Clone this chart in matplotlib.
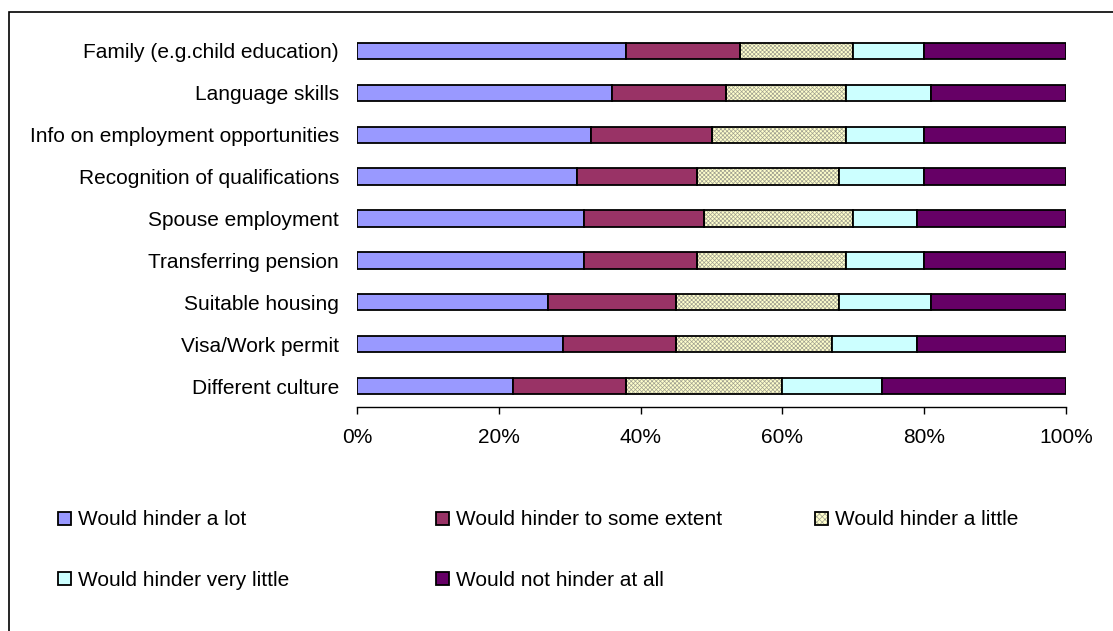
import matplotlib.pyplot as plt
import numpy as np
from matplotlib.patches import Rectangle

plt.rcParams['font.family'] = ['Liberation Sans', 'DejaVu Sans']
plt.rcParams['hatch.linewidth'] = 0.5

categories = ['Family (e.g.child education)', 'Language skills',
              'Info on employment opportunities', 'Recognition of qualifications',
              'Spouse employment', 'Transferring pension', 'Suitable housing',
              'Visa/Work permit', 'Different culture']
series = ['Would hinder a lot', 'Would hinder to some extent',
          'Would hinder a little', 'Would hinder very little',
          'Would not hinder at all']
# percent shares per category (rows follow categories)
a_lot = [38, 36, 33, 31, 32, 32, 27, 29, 22]
some_extent = [16, 16, 17, 17, 17, 16, 18, 16, 16]
a_little = [16, 17, 19, 20, 21, 21, 23, 22, 22]
very_little = [10, 12, 11, 12, 9, 11, 13, 12, 14]
not_at_all = [20, 19, 20, 20, 21, 20, 19, 21, 26]
xticks = [0, 20, 40, 60, 80, 100]
xticklabels = ['0%', '20%', '40%', '60%', '80%', '100%']

colors = ['#9999FF', '#993366', '#FFFFCC', '#CCFFFF', '#660066']
values = np.array([a_lot, some_extent, a_little, very_little, not_at_all], dtype=float)

W, H = 1113, 631
fig = plt.figure(figsize=(W / 100, H / 100), dpi=100)
ax = fig.add_axes([357 / W, 1 - 407 / H, (1066 - 357) / W, (407 - 30) / H])

y = np.arange(len(categories))[::-1]
left = np.zeros(len(categories))
bh = 0.39
handles = []
for i, (name, col) in enumerate(zip(series, colors)):
    if i == 2:
        ax.barh(y, values[i], left=left, height=bh, color=col, edgecolor='#a0a090',
                linewidth=0, hatch='xxxxxxxx', zorder=2)
        ax.barh(y, values[i], left=left, height=bh, fill=False, edgecolor='black',
                linewidth=1.3, zorder=3)
        h1 = Rectangle((0, 0), 1, 1, facecolor=col, edgecolor='#a0a090', linewidth=0, hatch='xxxxxx')
        h2 = Rectangle((0, 0), 1, 1, fill=False, edgecolor='black', linewidth=1.3)
        handles.append((h1, h2))
    else:
        ax.barh(y, values[i], left=left, height=bh, color=col, edgecolor='black',
                linewidth=1.3, zorder=3)
        handles.append(Rectangle((0, 0), 1, 1, facecolor=col, edgecolor='black', linewidth=1.3))
    left += values[i]

ax.set_xlim(0, 100)
ax.set_ylim(-0.5, len(categories) - 0.5)
ax.set_yticks(y)
ax.set_yticklabels(categories, fontsize=15)
ax.set_xticks(xticks)
ax.set_xticklabels(xticklabels, fontsize=15)
ax.tick_params(axis='y', length=0, pad=13)
ax.tick_params(axis='x', length=5, width=1, direction='out', pad=10)
for s in ['top', 'right', 'left']:
    ax.spines[s].set_visible(False)
ax.spines['bottom'].set_linewidth(1)

# legend in three columns with equal spacing
cols = [[0, 3], [1, 4], [2]]
xpos = [48, 426, 805]
for c, xp in zip(cols, xpos):
    leg = fig.legend([handles[k] for k in c], [series[k] for k in c],
                     loc='upper left', bbox_to_anchor=(xp / W, 1 - 500 / H),
                     frameon=False, fontsize=15, handlelength=0.58, handleheight=0.58,
                     handletextpad=0.38, labelspacing=2.0, borderpad=0)

# outer chart frame
fig.patches.append(Rectangle((9 / W, -0.1), 1.2, 1.1 - 12 / H, transform=fig.transFigure,
                             fill=False, edgecolor='black', linewidth=1.2))

fig.savefig('out.png', dpi=100)
